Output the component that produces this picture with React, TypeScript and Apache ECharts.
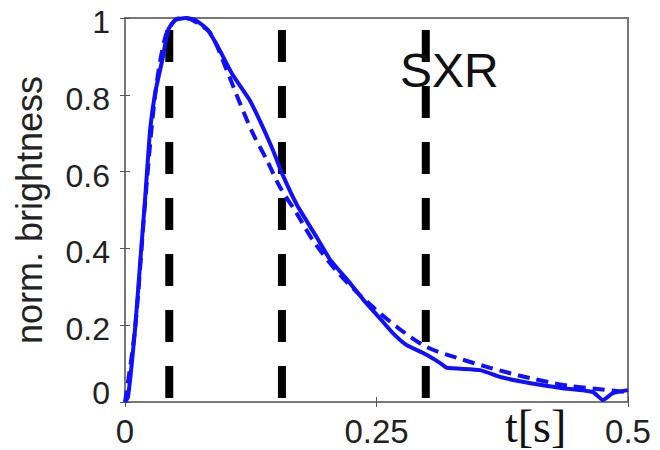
import { useEffect, useRef } from "react";
import * as echarts from "echarts";

// tick labels
const xTickValues = [0, 0.25, 0.5];
const yTickValues = [0, 0.2, 0.4, 0.6, 0.8, 1];

// measured SXR brightness (solid)
const tMeasured = [0, 0.003, 0.01, 0.015, 0.02, 0.025, 0.03, 0.037, 0.043, 0.05, 0.06, 0.07, 0.082, 0.094, 0.107, 0.124, 0.137, 0.147, 0.156, 0.171, 0.191, 0.204, 0.221, 0.237, 0.253, 0.266, 0.28, 0.296, 0.313, 0.32, 0.353, 0.373, 0.403, 0.435, 0.465, 0.475, 0.485, 0.5];
const yMeasured = [0, 0.013, 0.19, 0.36, 0.53, 0.71, 0.805, 0.89, 0.97, 0.995, 1.0, 0.995, 0.97, 0.917, 0.852, 0.786, 0.716, 0.656, 0.596, 0.513, 0.427, 0.37, 0.318, 0.266, 0.219, 0.18, 0.148, 0.128, 0.102, 0.089, 0.083, 0.065, 0.049, 0.036, 0.026, 0.005, 0.023, 0.031];

// model fit (dashed)
const tFit = [0, 0.01, 0.02, 0.03, 0.04, 0.05, 0.06, 0.07, 0.085, 0.101, 0.114, 0.127, 0.141, 0.154, 0.171, 0.187, 0.214, 0.244, 0.273, 0.3, 0.33, 0.363, 0.403, 0.442, 0.5];
const yFit = [0, 0.19, 0.52, 0.8, 0.95, 0.995, 1.0, 0.99, 0.96, 0.865, 0.78, 0.7, 0.63, 0.56, 0.49, 0.42, 0.33, 0.253, 0.19, 0.143, 0.115, 0.089, 0.062, 0.042, 0.026];

// vertical marker times and their vertical extent
const markerTimes = [0.044, 0.156, 0.299];
const markerRange = [0.969, 0.01];

const panelLabel = "SXR";
const xName = "t[s]";
const yName = "norm. brightness";

export default function App() {
  const ref = useRef<HTMLDivElement>(null);
  useEffect(() => {
    const chart = echarts.init(ref.current!, null, { renderer: "svg" });
    const font = "Liberation Sans, Arial, sans-serif";
    const axisColor = "#555";
    const markerSeries = markerTimes.map((t) => ({
      type: "line",
      data: markerRange.map((y) => [t, y]),
      symbol: "none",
      lineStyle: { color: "#000", width: 8, type: [32, 24], cap: "butt" },
      z: 1,
    }));
    chart.setOption({
      animation: false,
      backgroundColor: "#fff",
      grid: { left: 125, right: 32, top: 18, bottom: 48, show: true, borderColor: "#777", borderWidth: 2 },
      xAxis: [
        {
          type: "value",
          min: 0,
          max: 0.5,
          interval: 0.25,
          axisLine: { show: true, onZero: false, lineStyle: { color: axisColor, width: 2 } },
          axisTick: { show: true, inside: true, length: 5, lineStyle: { color: axisColor } },
          splitLine: { show: false },
          axisLabel: {
            margin: 13,
            fontSize: 33,
            fontFamily: font,
            color: "#222",
            formatter: (v: number) => (xTickValues.includes(v) ? String(v) : ""),
          },
        },
        {
          type: "value",
          position: "top",
          min: 0,
          max: 0.5,
          interval: 0.25,
          axisLine: { show: true, lineStyle: { color: "#777", width: 2 } },
          axisTick: { show: true, inside: true, length: 5, lineStyle: { color: axisColor } },
          axisLabel: { show: false },
          splitLine: { show: false },
        },
      ],
      yAxis: [
        {
          type: "value",
          min: 0,
          max: 1,
          interval: 0.2,
          name: yName,
          nameLocation: "middle",
          nameGap: 78,
          nameTextStyle: { fontSize: 36, fontFamily: font, color: "#222" },
          axisLine: { show: true, onZero: false, lineStyle: { color: axisColor, width: 2 } },
          axisTick: { show: true, inside: true, length: 5, lineStyle: { color: axisColor } },
          splitLine: { show: false },
          axisLabel: {
            margin: 15,
            fontSize: 32,
            fontFamily: font,
            color: "#222",
            formatter: (v: number) => {
              const idx = yTickValues.findIndex((t) => Math.abs(t - v) < 1e-9);
              if (idx < 0) return "";
              const s = String(yTickValues[idx]);
              return idx === 0 ? `{z|${s}}` : `{a|${s}}`;
            },
            rich: {
              a: { fontSize: 32, fontFamily: font, color: "#222", padding: [8, 0, 0, 0] },
              z: { fontSize: 32, fontFamily: font, color: "#222", padding: [0, 0, 18, 0] },
            },
          },
        },
        {
          type: "value",
          position: "right",
          min: 0,
          max: 1,
          interval: 0.2,
          axisLine: { show: true, lineStyle: { color: "#777", width: 2 } },
          axisTick: { show: true, inside: true, length: 5, lineStyle: { color: axisColor } },
          axisLabel: { show: false },
          splitLine: { show: false },
        },
      ],
      graphic: [
        {
          type: "text",
          left: 400,
          top: 46,
          style: { text: panelLabel, fontSize: 48, fontFamily: font, fill: "#111" },
          z: 10,
        },
        {
          type: "text",
          left: 505,
          top: 403,
          style: { text: xName, fontSize: 46, fontFamily: "Liberation Serif, Times New Roman, serif", fill: "#111" },
          z: 10,
        },
      ],
      series: [
        ...markerSeries,
        {
          type: "line",
          data: tFit.map((t, i) => [t, yFit[i]]),
          symbol: "none",
          smooth: 0.3,
          lineStyle: { color: "#1010ff", width: 4, type: [12, 7] },
          z: 2,
        },
        {
          type: "line",
          data: tMeasured.map((t, i) => [t, yMeasured[i]]),
          symbol: "none",
          smooth: 0.15,
          lineStyle: { color: "#1010ff", width: 4 },
          z: 3,
        },
      ],
    });
    return () => chart.dispose();
  }, []);
  return <div ref={ref} style={{ position: "fixed", left: 0, top: 0, width: 660, height: 450 }} />;
}
